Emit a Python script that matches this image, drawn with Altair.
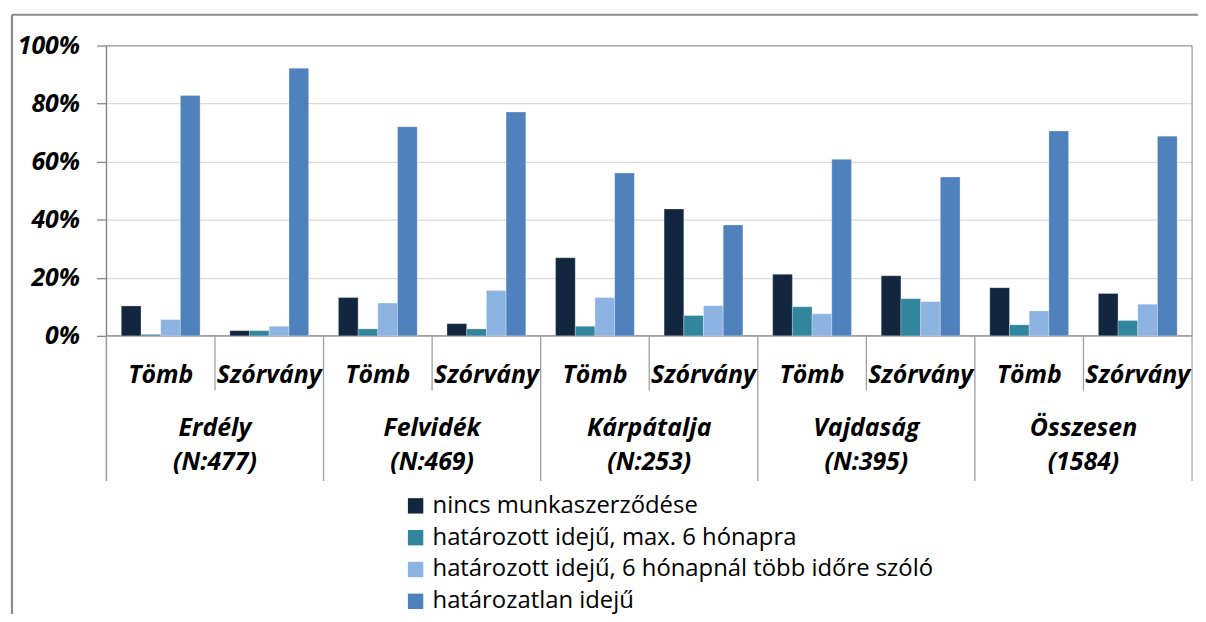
import altair as alt
import pandas as pd

regions = ["Erdély", "Felvidék", "Kárpátalja", "Vajdaság", "Összesen"]
region_ns = ["(N:477)", "(N:469)", "(N:253)", "(N:395)", "(1584)"]
subs = ["Tömb", "Szórvány"]
series = [
    "nincs munkaszerződése",
    "határozott idejű, max. 6 hónapra",
    "határozott idejű, 6 hónapnál több időre szóló",
    "határozatlan idejű",
]
colors = ["#12263f", "#31859c", "#8db3e2", "#4f81bd"]
# values in %, order: Erdély T/Sz, Felvidék T/Sz, Kárpátalja T/Sz, Vajdaság T/Sz, Összesen T/Sz
v_nincs = [10.3, 1.8, 13.2, 4.2, 26.9, 43.7, 21.2, 20.7, 16.6, 14.6]
v_max6 = [0.5, 1.8, 2.4, 2.4, 3.3, 7.0, 10.0, 12.8, 3.8, 5.3]
v_tobb = [5.6, 3.3, 11.3, 15.6, 13.2, 10.4, 7.6, 11.8, 8.6, 10.9]
v_hatlan = [82.8, 92.2, 72.0, 77.1, 56.1, 38.2, 60.8, 54.7, 70.6, 68.8]
y_ticks = [0, 0.2, 0.4, 0.6, 0.8, 1.0]

W, H = 1092, 292
FONT = "Open Sans"

keys = [f"{r}|{s}" for r in regions for s in subs]
rows = []
for si, vals in enumerate([v_nincs, v_max6, v_tobb, v_hatlan]):
    for k, v in zip(keys, vals):
        rows.append({"key": k, "series": series[si], "value": v / 100})
bars_df = pd.DataFrame(rows)

sub_df = pd.DataFrame({"key": keys, "label": [s for r in regions for s in subs]})
reg_df = pd.DataFrame({
    "key": [f"{r}|{subs[1]}" for r in regions],
    "name": regions,
    "n": region_ns,
})
region_starts = pd.DataFrame({"key": [f"{r}|{subs[0]}" for r in regions]})
sub_seps = pd.DataFrame({"key": [f"{r}|{subs[1]}" for r in regions]})
one = pd.DataFrame({"a": [0]})

xscale = alt.Scale(domain=keys, paddingInner=0, paddingOuter=0)
yscale = alt.Scale(domain=[0, 1], nice=False)

def X(band=None):
    if band is None:
        return alt.X("key:N", scale=xscale, axis=None, sort=keys)
    return alt.X("key:N", scale=xscale, axis=None, sort=keys, bandPosition=band)

bars = alt.Chart(bars_df).mark_bar(stroke="white", strokeWidth=0.4, strokeOpacity=0.7).encode(
    x=X(),
    xOffset=alt.XOffset("series:N", sort=series,
                        scale=alt.Scale(domain=series, paddingInner=0, paddingOuter=0.755)),
    y=alt.Y("value:Q", scale=yscale,
            axis=alt.Axis(values=y_ticks, format=".0%", title=None, domain=False,
                          grid=True, gridColor="#d9d9d9", gridWidth=1.3,
                          ticks=True, tickColor="#868686", tickSize=10, tickWidth=1.3,
                          labelPadding=17, labelFont=FONT, labelFontSize=25,
                          labelFontWeight="bold", labelFontStyle="italic",
                          labelColor="#000000")),
    color=alt.Color("series:N", sort=series,
                    scale=alt.Scale(domain=series, range=colors),
                    legend=alt.Legend(title=None, orient="none", legendX=299, legendY=451,
                                      direction="vertical", columns=1, padding=0,
                                      symbolType="square", symbolSize=240,
                                      symbolStrokeWidth=0, symbolOpacity=1,
                                      labelFont=FONT, labelFontSize=24, labelColor="#000000",
                                      labelOffset=5, rowPadding=8, labelLimit=800)),
)

def rule(x, x2, y, y2, color, width=1.3):
    return alt.Chart(one).mark_rule(color=color, strokeWidth=width).encode(
        x=alt.value(x), x2=alt.value(x2), y=alt.value(y), y2=alt.value(y2))

frame = (
    rule(0, W, 0, 0, "#a6a6a6")
    + rule(W, W, 0, 438, "#a6a6a6")
    + rule(0, 0, 0, 438, "#868686")
    + rule(0, W, H, H, "#868686")
    + rule(-95, -95, -31, 600, "#8c8c8c", 2.2)
    + rule(-95, W + 20, -31, -31, "#8c8c8c", 2.2)
)

reg_sep = alt.Chart(region_starts).mark_rule(color="#a0a0a0", strokeWidth=1.3).encode(
    x=X(0), y=alt.value(H), y2=alt.value(438))
sub_sep = alt.Chart(sub_seps).mark_rule(color="#a0a0a0", strokeWidth=1.3).encode(
    x=X(0), y=alt.value(H), y2=alt.value(347))

txt_style = dict(font=FONT, fontSize=25, fontWeight="bold", fontStyle="italic",
                 color="#000000", align="center", baseline="alphabetic")
sub_txt = alt.Chart(sub_df).mark_text(**txt_style).encode(
    x=X(), y=alt.value(339), text="label:N")
reg_txt1 = alt.Chart(reg_df).mark_text(**txt_style).encode(
    x=X(0), y=alt.value(393), text="name:N")
reg_txt2 = alt.Chart(reg_df).mark_text(**txt_style).encode(
    x=X(0), y=alt.value(427), text="n:N")

chart = alt.layer(frame, bars, reg_sep, sub_sep, sub_txt, reg_txt1, reg_txt2).properties(
    width=W, height=H,
    autosize=alt.AutoSizeParams(type="none"),
    padding={"left": 99, "top": 36, "right": 6, "bottom": 278},
).configure_view(stroke=None).configure(background="white")

chart.save("out.html", embed_options={"renderer": "svg", "actions": False})
